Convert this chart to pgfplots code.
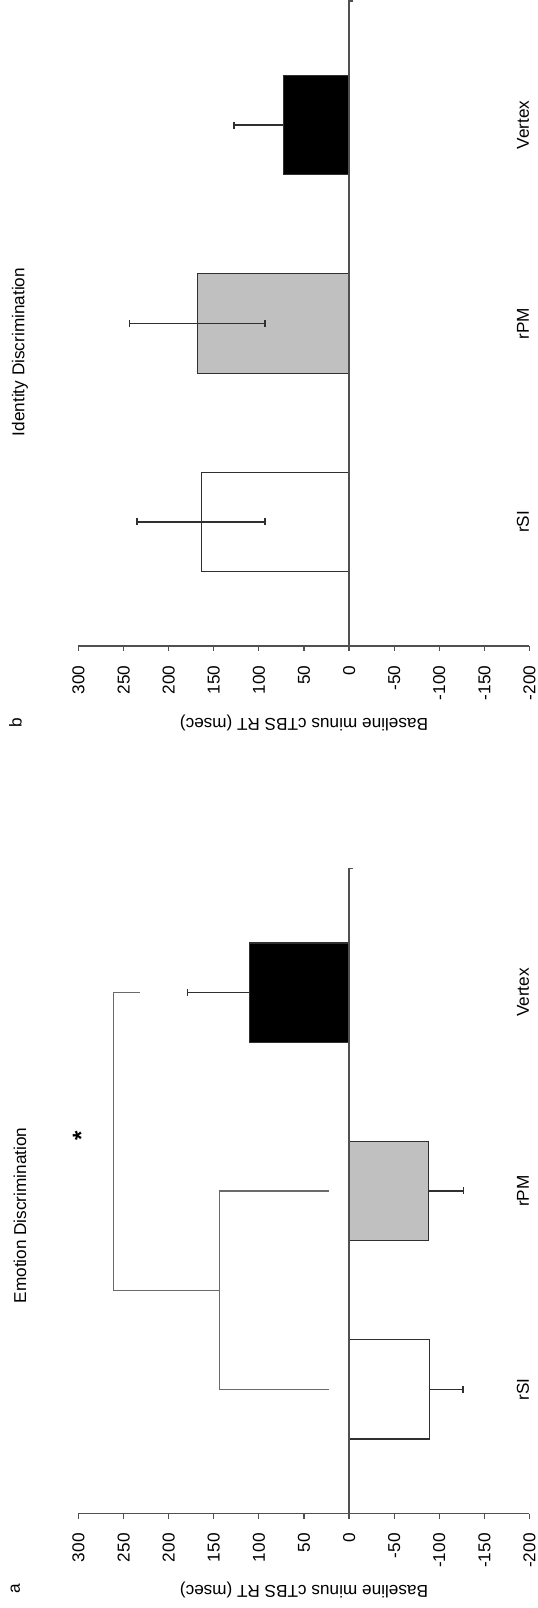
\documentclass[border=0pt]{standalone}
\usepackage{fontspec}
\setmainfont{Liberation Sans}
\usepackage{pgfplots}
\pgfplotsset{compat=1.18}

\definecolor{barsilver}{HTML}{C0C0C0}
\definecolor{axisgray}{HTML}{505050}
\definecolor{bracketgray}{HTML}{6A6A6A}
\definecolor{edgegray}{HTML}{303030}

\newcommand{\figfont}{\fontsize{8.6}{10}\selectfont}

\pgfplotsset{
  panel/.style={
    width=225.5pt, height=322.5pt, scale only axis,
    xmin=-200, xmax=300, x dir=reverse,
    ymin=0.375, ymax=3.625,
    axis x line*=bottom, axis y line*=right,
    x axis line style={axisgray, line width=0.6pt, -},
    y axis line style={draw=none},
    xtick={-200,-150,...,300},
    tick align=outside, major tick length=2.5pt,
    xtick style={axisgray, line width=0.6pt},
    ytick={1,2,3}, yticklabels={rSI,rPM,Vertex},
    ytick style={draw=none},
    /pgf/number format/assume math mode=true,
    xticklabel style={rotate=90, anchor=east, font=\figfont},
    yticklabel style={rotate=90, anchor=center, font=\figfont},
    yticklabel shift=-5.75pt,
    xticklabel shift=3.9pt,
    xlabel={Baseline minus cTBS RT (msec)},
    xlabel style={at={(axis description cs:0.5,-0.1186)}, anchor=center, rotate=180, font=\figfont},
    clip=false,
  },
  bar/.style={xbar, bar width=0.5, bar shift=0pt, draw=edgegray, line width=0.6pt,
    error bars/x explicit,
    error bars/error mark=|,
    error bars/error bar style={edgegray, line width=0.6pt},
    error bars/error mark options={edgegray, mark size=1.75pt, line width=0.8pt}},
  zeroline/.style={axisgray, line width=0.6pt, no marks},
  bracket/.style={bracketgray, line width=0.6pt, no marks},
}

\begin{document}
\begin{tikzpicture}[font=\figfont]
\useasboundingbox (0,0) rectangle (268.5pt,804pt);

% Panel a: emotion discrimination
\begin{axis}[panel, at={(152pt,47.25pt)}, anchor=south]
  \addplot[bar, fill=white, error bars/x dir=minus] coordinates {(-89,1) -= (37,0)};
  \addplot[bar, fill=barsilver, error bars/x dir=minus] coordinates {(-88,2) -= (39,0)};
  \addplot[bar, fill=black, error bars/x dir=plus] coordinates {(110,3) += (69,0)};
  \addplot[zeroline] coordinates {(0,0.375) (0,3.625) (-4.8,3.625)};
  % significance brackets
  \addplot[bracket] coordinates {(22,1) (143.5,1) (143.5,2) (22,2)};
  \addplot[bracket] coordinates {(143.5,1.5) (261,1.5) (261,3) (232,3)};
  \node[rotate=90, font=\fontsize{12}{14}\selectfont\bfseries] at (axis cs:297,2.28) {*};
  \node[rotate=90] at (axis cs:365,1.877) {Emotion Discrimination};
  \node[rotate=90] at (axis cs:370,-0.005) {a};
\end{axis}

% Panel b: identity discrimination
\begin{axis}[panel, at={(152pt,481pt)}, anchor=south]
  \addplot[bar, fill=white, error bars/x dir=both] coordinates {(164,1) +- (71,0)};
  \addplot[bar, fill=barsilver, error bars/x dir=both] coordinates {(168.5,2) +- (75,0)};
  \addplot[bar, fill=black, error bars/x dir=plus] coordinates {(73,3) += (54.5,0)};
  \addplot[zeroline] coordinates {(0,0.375) (0,3.625) (-4.8,3.625)};
  \node[rotate=90] at (axis cs:365,1.856) {Identity Discrimination};
  \node[rotate=90] at (axis cs:370,-0.013) {b};
\end{axis}
\end{tikzpicture}
\end{document}
